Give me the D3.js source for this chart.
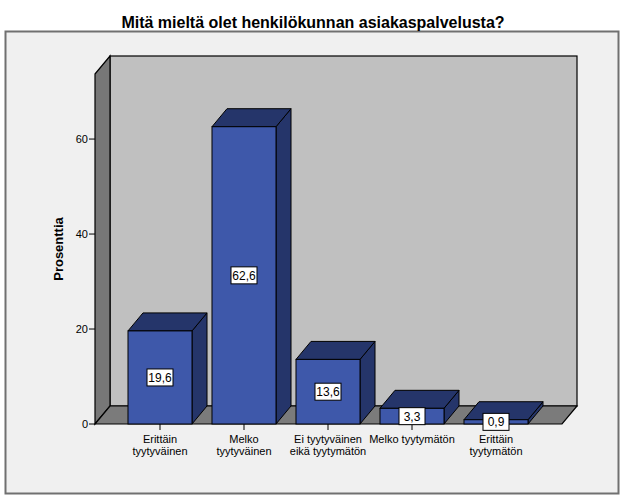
<!DOCTYPE html>
<html><head><meta charset="utf-8">
<script src="https://cdn.jsdelivr.net/npm/d3@7"></script>
<style>body{margin:0;background:#fff}svg{display:block;font-family:"Liberation Sans",Arial,sans-serif}</style>
</head><body>
<svg id="c" width="626" height="501"></svg>
<script>
const title = "Mitä mieltä olet henkilökunnan asiakaspalvelusta?";
const yTitle = "Prosenttia";
const categories = ["Erittäin tyytyväinen","Melko tyytyväinen","Ei tyytyväinen eikä tyytymätön","Melko tyytymätön","Erittäin tyytymätön"];
const categoryLines = [["Erittäin","tyytyväinen"],["Melko","tyytyväinen"],["Ei tyytyväinen","eikä tyytymätön"],["Melko tyytymätön"],["Erittäin","tyytymätön"]];
const values = [19.6, 62.6, 13.6, 3.3, 0.9];
const yTicks = [0, 20, 40, 60];

(function(){
const svg = d3.select("#c");
const dx = 15, dy = -18;
const x0 = 95, x1 = 562;
const y = d3.scaleLinear().domain([0, 73.7]).range([424, 74]);
const x = d3.scaleBand().domain(categories).range([118, 538]).paddingInner(0.238).paddingOuter(0.119);
const base = y(0);
const yTop = y.range()[1];

// frame
svg.append("rect").attr("x",5.5).attr("y",31.5).attr("width",613).attr("height",462)
  .attr("fill","#f0f0f0").attr("stroke","#707070").attr("stroke-width",2);

svg.append("text").attr("x",313).attr("y",28).attr("text-anchor","middle")
  .attr("font-size",16).attr("font-weight","bold").text(title);

const line = d3.line();
// back wall
svg.append("rect").attr("x",x0+dx).attr("y",yTop+dy).attr("width",x1-x0).attr("height",base-yTop)
  .attr("fill","#c0c0c0").attr("stroke","#000").attr("stroke-width",1.2);
// left wall
svg.append("path").attr("d",line([[x0,yTop],[x0+dx,yTop+dy],[x0+dx,base+dy],[x0,base]])+"Z")
  .attr("fill","#777").attr("stroke","#000").attr("stroke-width",1.2);
// floor
svg.append("path").attr("d",line([[x0,base],[x0+dx,base+dy],[x1+dx,base+dy],[x1,base]])+"Z")
  .attr("fill","#7b7b7b").attr("stroke","#000").attr("stroke-width",1.2);

// y ticks
const yt = svg.append("g");
yTicks.forEach(t=>{
  yt.append("line").attr("x1",x0-6).attr("x2",x0).attr("y1",y(t)).attr("y2",y(t)).attr("stroke","#000");
  yt.append("text").attr("x",x0-7).attr("y",y(t)+4).attr("text-anchor","end").attr("font-size",11).text(t);
});
svg.append("text").attr("transform",`translate(63,249) rotate(-90)`).attr("text-anchor","middle")
  .attr("font-size",13).attr("font-weight","bold").text(yTitle);

// bars
const bars = svg.append("g");
categories.forEach((c,i)=>{
  const bx = x(c), w = x.bandwidth(), by = y(values[i]);
  bars.append("path").attr("d",line([[bx+w,by],[bx+w+dx,by+dy],[bx+w+dx,base+dy],[bx+w,base]])+"Z")
    .attr("fill","#25356a").attr("stroke","#000").attr("stroke-width",1);
  bars.append("path").attr("d",line([[bx,by],[bx+dx,by+dy],[bx+w+dx,by+dy],[bx+w,by]])+"Z")
    .attr("fill","#25356a").attr("stroke","#000").attr("stroke-width",1);
  bars.append("rect").attr("x",bx).attr("y",by).attr("width",w).attr("height",base-by)
    .attr("fill","#3e58aa").attr("stroke","#000").attr("stroke-width",1);
});

// category ticks and labels
categories.forEach((c,i)=>{
  const cx = x(c)+x.bandwidth()/2;
  svg.append("line").attr("x1",cx).attr("x2",cx).attr("y1",base).attr("y2",base+6).attr("stroke","#000");
  categoryLines[i].forEach((l,j)=>{
    svg.append("text").attr("x",cx).attr("y",443+j*12).attr("text-anchor","middle").attr("font-size",11).text(l);
  });
});

// value labels
categories.forEach((c,i)=>{
  const cx = x(c)+x.bandwidth()/2, cy = (y(values[i])+base)/2;
  const lbl = d3.format(".1f")(values[i]).replace(".",",");
  svg.append("rect").attr("x",cx-13).attr("y",cy-8.5).attr("width",26).attr("height",17)
    .attr("fill","#fff").attr("stroke","#000").attr("stroke-width",1);
  svg.append("text").attr("x",cx).attr("y",cy+4.5).attr("text-anchor","middle").attr("font-size",12).text(lbl);
});
})();
</script>
</body></html>
